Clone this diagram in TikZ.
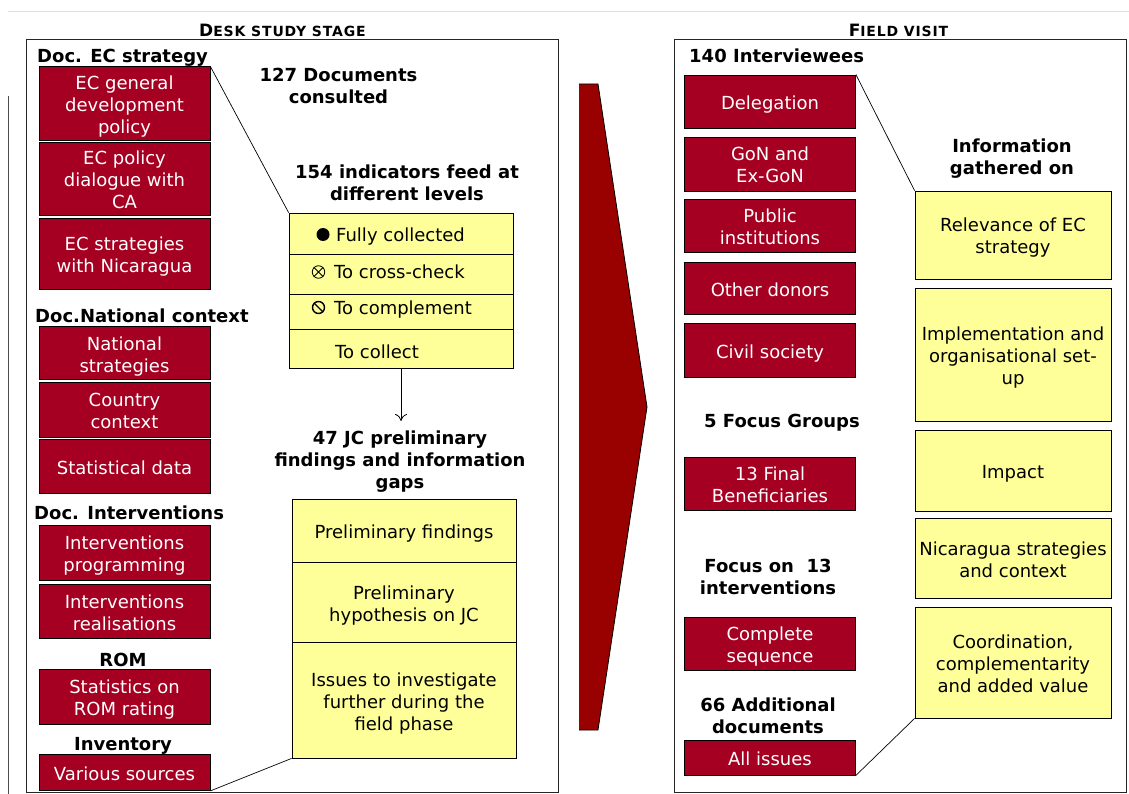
\documentclass[tikz,border=0pt]{standalone}
\usepackage{fontspec}
\setmainfont{DejaVu Sans}
\usetikzlibrary{arrows.meta}
\definecolor{boxred}{HTML}{A50021}
\definecolor{arrowred}{HTML}{990000}
\definecolor{notefill}{HTML}{FFFF99}
% centred block of lines with a fixed top padding
\newcommand{\ml}[1]{\begin{tabular}{@{}c@{}}\rule{0pt}{22.6pt}#1\end{tabular}}
\begin{document}
\begin{tikzpicture}[x=1pt,y=-1pt,
  txt/.style={font=\fontsize{18}{22}\selectfont, inner sep=0pt},
  head/.style={font=\fontsize{18}{22}\selectfont\bfseries, inner sep=0pt},
  redbox/.style={txt, fill=boxred, draw=black, line width=0.8pt, text=white, minimum width=171pt},
  yelbox/.style={txt, fill=notefill, draw=black, line width=0.8pt},
  panel/.style={draw=black!85, line width=1pt, inner sep=0pt},
  link/.style={draw=black, line width=0.7pt},
  symdot/.style={circle, inner sep=0pt, minimum size=12.5pt},
  stagehead/.style={font=\bfseries\addfontfeature{LetterSpace=6}, anchor=base, inner sep=0pt}
]
\useasboundingbox (0,0) rectangle (1129,794);

% rules at the page edge
\draw[black!12, line width=1pt] (8,12) -- (1129,12);
\draw[black!70, line width=1pt] (8,96) -- (8,794);

% the two panels
\node[panel, minimum width=532pt, minimum height=752pt] (deskpanel) at (292,416) {};
\node[panel, minimum width=452pt, minimum height=752pt] (fieldpanel) at (900,416) {};

\node[stagehead] (deskhead) at (282.5,37)
  {\fontsize{17}{17}\selectfont D\fontsize{14}{17}\selectfont ESK STUDY STAGE};
\node[stagehead] (fieldhead) at (898.5,37)
  {\fontsize{17}{17}\selectfont F\fontsize{14}{17}\selectfont IELD VISIT};

% ---------------- desk study: document sources
\node[head, anchor=base west] (lecs) at (37,63) {Doc. EC strategy};
\node[redbox, minimum height=73pt] (ecgen) at (124.5,103.5) {\ml{EC general\\development\\policy}};
\node[redbox, minimum height=72pt] (ecdia) at (124.5,179) {\ml{EC policy\\dialogue with\\CA}};
\node[redbox, minimum height=71pt] (ecnic) at (124.5,253.5) {\ml{EC strategies\\with Nicaragua}};

\node[head, anchor=base west] (lnat) at (35,322) {Doc.National context};
\node[redbox, minimum height=53pt] (natstr) at (124.5,353) {\ml{National\\strategies}};
\node[redbox, minimum height=55pt] (ctx) at (124.5,409.5) {\ml{Country\\context}};
\node[redbox, minimum height=54pt] (stat) at (124.5,466) {\ml{Statistical data}};

\node[head, anchor=base west] (lint) at (34,519) {Doc. Interventions};
\node[redbox, minimum height=55pt] (intprog) at (124.5,552.5) {\ml{Interventions\\programming}};
\node[redbox, minimum height=54pt] (intreal) at (124.5,611) {\ml{Interventions\\realisations}};

\node[head, anchor=base] (lrom) at (123,666) {ROM};
\node[redbox, minimum height=55pt] (romstat) at (124.5,696.5) {\ml{Statistics on\\ROM rating}};

\node[head, anchor=base] (linv) at (123,750) {Inventory};
\node[redbox, minimum height=36pt] (various) at (124.5,772.5) {\ml{Various sources}};

% ---------------- desk study: indicators and findings
\node[head] (docs) at (338.5,84.5) {\ml{127 Documents\\consulted}};
\node[head] (indic) at (407,181.5) {\ml{154 indicators feed at\\different levels}};

\node[yelbox, minimum width=224pt, minimum height=41pt] (row1) at (401,233.5) {};
\node[yelbox, minimum width=224pt, minimum height=40pt] (row2) at (401,274) {};
\node[yelbox, minimum width=224pt, minimum height=35pt] (row3) at (401,311.5) {};
\node[yelbox, minimum width=224pt, minimum height=39pt] (row4) at (401,348.5) {};

\node[symdot, fill=black, minimum size=13pt] (fullmark) at (323,234.5) {};
\node[symdot, draw=black, line width=0.8pt] (crossmark) at (318.5,272) {};
\draw[line width=0.8pt] (crossmark.north west) -- (crossmark.south east)
                        (crossmark.north east) -- (crossmark.south west);
\node[symdot, draw=black, line width=1.4pt, minimum size=12pt] (compmark) at (318.5,307.5) {};
\draw[line width=1.4pt] (compmark.north west) -- (compmark.south east);

\node[txt, anchor=base west] (tfull) at (336,242) {Fully collected};
\node[txt, anchor=base west] (tcross) at (334,279) {To cross-check};
\node[txt, anchor=base west] (tcomp) at (334,314) {To complement};
\node[txt, anchor=base west] (tcoll) at (335,358) {To collect};

\coordinate (arrowend) at (401,421);
\draw[line width=0.8pt, -{To[length=7pt,width=12pt]}] (row4.south) -- (arrowend);

\node[head] (jc) at (400,458) {\ml{47 JC preliminary\\findings and information\\gaps}};
\node[yelbox, minimum width=224pt, minimum height=63pt] (prelim) at (404,530.5) {\ml{Preliminary findings}};
\node[yelbox, minimum width=224pt, minimum height=80pt] (hypo) at (404,602) {\ml{Preliminary\\hypothesis on JC}};
\node[yelbox, minimum width=224pt, minimum height=116pt] (issues) at (404,700) {\ml{Issues to investigate\\further during the\\field phase}};

\draw[link] (ecgen.north east) -- (row1.north west);
\draw[link] (various.south east) -- (issues.south west);

% ---------------- transition arrow
\fill[arrowred] (579,84) -- (598,84) -- (647,407) -- (598,730) -- (579,730) -- cycle;
\draw[black, line width=0.8pt, line join=miter] (579,84) -- (598,84) -- (647,407) -- (598,730) -- (579,730);

% ---------------- field visit: interviewees
\node[head, anchor=base west] (interv) at (689,63) {140 Interviewees};
\node[redbox, minimum height=53pt] (deleg) at (770,101.5) {\ml{Delegation}};
\node[redbox, minimum height=54pt] (gon) at (770,164) {\ml{GoN and\\Ex-GoN}};
\node[redbox, minimum height=53pt] (pubinst) at (770,225.5) {\ml{Public\\institutions}};
\node[redbox, minimum height=52pt] (donors) at (770,288) {\ml{Other donors}};
\node[redbox, minimum height=54pt] (civil) at (770,350) {\ml{Civil society}};

\node[head, anchor=base] (focusgr) at (782,427) {5 Focus Groups};
\node[redbox, minimum height=53pt] (benef) at (770,483.5) {\ml{13 Final\\Beneficiaries}};

\node[head] (focusint) at (768,575.5) {\ml{Focus on\ \ 13\\interventions}};
\node[redbox, minimum height=53pt] (sequence) at (770,643.5) {\ml{Complete\\sequence}};

\node[head] (adddocs) at (768,714.5) {\ml{66 Additional\\documents}};
\node[redbox, minimum height=35pt] (allissues) at (770,757.5) {\ml{All issues}};

% ---------------- field visit: information gathered
\node[head] (gathered) at (1012,155.5) {\ml{Information\\gathered on}};
\node[yelbox, minimum width=196pt, minimum height=88pt] (relev) at (1013,235) {\ml{Relevance of EC\\strategy}};
\node[yelbox, minimum width=196pt, minimum height=133pt] (implem) at (1013,354.5) {\ml{Implementation and\\organisational set-\\up}};
\node[yelbox, minimum width=196pt, minimum height=81pt] (impact) at (1013,470.5) {\ml{Impact}};
\node[yelbox, minimum width=196pt, minimum height=80pt] (nicstr) at (1013,558) {\ml{Nicaragua strategies\\and context}};
\node[yelbox, minimum width=196pt, minimum height=111pt] (coord) at (1013,662.5) {\ml{Coordination,\\complementarity\\and added value}};

\draw[link] (deleg.north east) -- (relev.north west);
\draw[link] (allissues.south east) -- (coord.south west);
\end{tikzpicture}
\end{document}
